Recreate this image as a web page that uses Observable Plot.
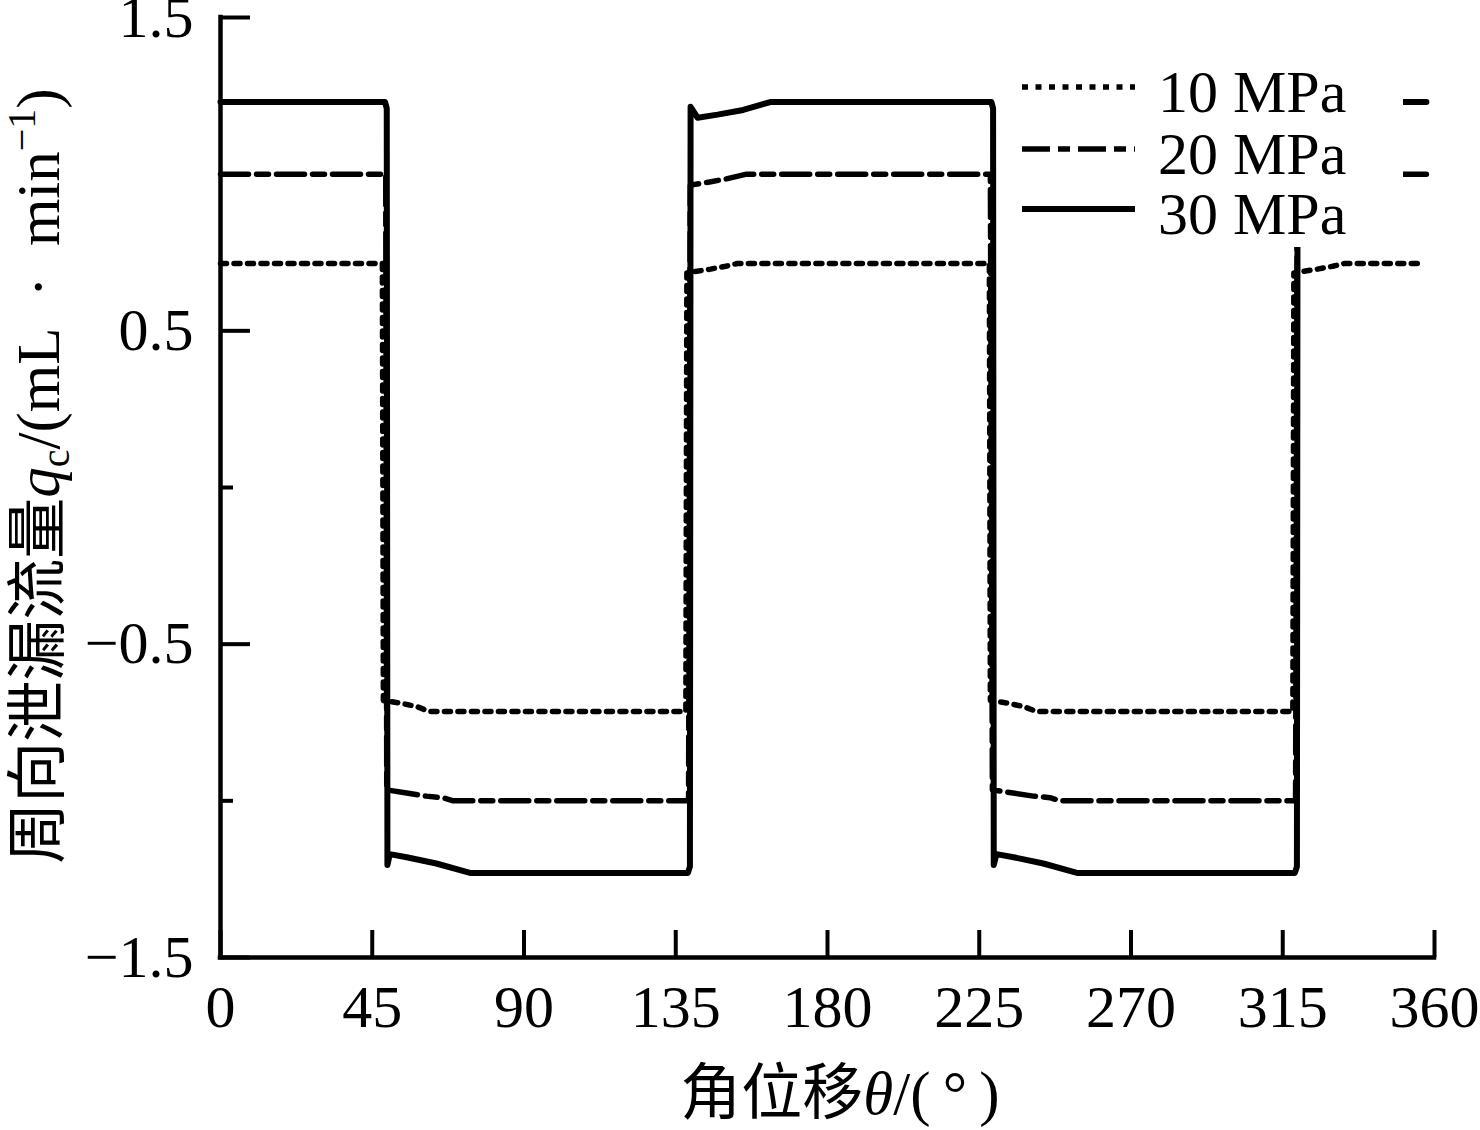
<!DOCTYPE html>
<html>
<head>
<meta charset="utf-8">
<script src="https://cdn.jsdelivr.net/npm/d3@7"></script>
<script src="https://cdn.jsdelivr.net/npm/@observablehq/plot@0.6"></script>
<style>
  html, body { margin: 0; padding: 0; background: #fff; }
  #chart { width: 1480px; height: 1130px; }
</style>
</head>
<body>
<div id="chart"></div>
<script>
// ---- data ----
const seriesNames = ["10 MPa", "20 MPa", "30 MPa"];
const xTicks = [0, 45, 90, 135, 180, 225, 270, 315, 360];
const yLabelTicks = [1.5, 0.5, -0.5, -1.5];
const yMinorTicks = [1.0, 0, -1.0];

const theta10 = [0, 48.0, 48.3, 53.4, 58.4, 62, 138.0, 138.3, 145.3, 149.8, 153.3, 228.0, 228.3, 233.4, 238.4, 242, 318.0, 318.3, 325.3, 329.8, 333.3, 355.3];
const q10     = [0.715, 0.715, -0.68, -0.688, -0.70, -0.715, -0.715, 0.685, 0.697, 0.706, 0.715, 0.715, -0.68, -0.688, -0.70, -0.715, -0.715, 0.685, 0.697, 0.706, 0.715, 0.715];

const theta20 = [0, 49.0, 49.3, 55.2, 61, 66, 69, 138.8, 139.3, 145, 150, 156, 228.3, 228.9, 235, 241, 246, 249, 318.8, 319.3, 325, 330, 336, 357.6];
const q20     = [1.0, 1.0, -0.965, -0.975, -0.985, -0.99, -1.0, -1.0, 0.965, 0.975, 0.985, 1.0, 1.0, -0.965, -0.975, -0.985, -0.99, -1.0, -1.0, 0.965, 0.975, 0.985, 1.0, 1.0];

const theta30 = [0, 48.8, 49.3, 49.5, 50.2, 55.2, 64, 74, 138.6, 139.2, 139.4, 141.5, 147.4, 155, 163, 228.6, 229.1, 229.3, 230.1, 235.2, 244, 254, 318.6, 319.2, 319.4, 321.5, 327.4, 335, 343, 357.6];
const q30     = [1.23, 1.23, 1.21, -1.205, -1.17, -1.18, -1.20, -1.23, -1.23, -1.21, 1.215, 1.18, 1.19, 1.205, 1.23, 1.23, 1.21, -1.205, -1.17, -1.18, -1.20, -1.23, -1.23, -1.21, 1.215, 1.18, 1.19, 1.205, 1.23, 1.23];

// ---- layout ----
const W = 1480, H = 1130;
const mL = 220, mR = 46, mT = 17, mB = 173;
const plotW = W - mL - mR, plotH = H - mT - mB;
const xDomain = [0, 360], yDomain = [-1.5, 1.5];
const yUnitPerPx = (yDomain[1] - yDomain[0]) / plotH;
const xUnitPerPx = (xDomain[1] - xDomain[0]) / plotW;

const rows = (t, q, s) => t.map((x, i) => ({theta: x, q: q[i], series: s}));
const d10 = rows(theta10, q10, seriesNames[0]);
const d20 = rows(theta20, q20, seriesNames[1]);
const d30 = rows(theta30, q30, seriesNames[2]);

const styles = {
  "10 MPa": {strokeWidth: 5.5, strokeDasharray: "6,7.5"},
  "20 MPa": {strokeWidth: 5.5, strokeDasharray: "28,8,12,8"},
  "30 MPa": {strokeWidth: 6, strokeDasharray: null}
};

const axisW = 4.5;
const serif = "'Liberation Serif', 'Noto Sans CJK SC', serif";

const chart = Plot.plot({
  width: W, height: H,
  marginLeft: mL, marginRight: mR, marginTop: mT, marginBottom: mB,
  style: {fontFamily: serif, fontSize: "60px", color: "#000", background: "#fff", overflow: "visible"},
  x: {domain: xDomain, label: null},
  y: {domain: yDomain, label: null},
  marks: [
    // series
    Plot.line(d10, {x: "theta", y: "q", stroke: "#000", strokeWidth: styles["10 MPa"].strokeWidth, strokeDasharray: styles["10 MPa"].strokeDasharray, strokeLinejoin: "round"}),
    Plot.line(d20, {x: "theta", y: "q", stroke: "#000", strokeWidth: styles["20 MPa"].strokeWidth, strokeDasharray: styles["20 MPa"].strokeDasharray, strokeLinejoin: "round"}),
    Plot.line(d30, {x: "theta", y: "q", stroke: "#000", strokeWidth: styles["30 MPa"].strokeWidth, strokeLinejoin: "round"}),
    // inward ticks
    Plot.ruleX(xTicks, {x: d => d, y1: yDomain[0], y2: yDomain[0] + 27 * yUnitPerPx, stroke: "#000", strokeWidth: 4}),
    Plot.ruleY(yLabelTicks, {y: d => d, x1: xDomain[0], x2: xDomain[0] + 30 * xUnitPerPx, stroke: "#000", strokeWidth: 4}),
    Plot.ruleY(yMinorTicks, {y: d => d, x1: xDomain[0], x2: xDomain[0] + 13 * xUnitPerPx, stroke: "#000", strokeWidth: 4}),
    // axis lines
    Plot.ruleX([xDomain[0]], {y1: yDomain[0], y2: yDomain[1], stroke: "#000", strokeWidth: axisW, strokeLinecap: "square"}),
    Plot.ruleY([yDomain[0]], {x1: xDomain[0], x2: xDomain[1], stroke: "#000", strokeWidth: axisW, strokeLinecap: "square"}),
    // tick labels
    Plot.axisX(xTicks, {tickSize: 0, tickPadding: 27, fontSize: 60, label: null}),
    Plot.axisY(yLabelTicks, {tickSize: 0, tickPadding: 27, fontSize: 60, label: null})
  ]
});

document.getElementById("chart").appendChild(chart);

// ---- legend (white box over the curves) and axis titles ----
const svg = d3.select(chart);
const lg = svg.append("g").attr("class", "legend");
lg.append("rect").attr("x", 1005).attr("y", 55).attr("width", 398).attr("height", 192).attr("fill", "#fff");
const legendRowsY = [87, 149, 209];
seriesNames.forEach((name, i) => {
  const st = styles[name];
  lg.append("line")
    .attr("x1", 1022).attr("x2", 1135)
    .attr("y1", legendRowsY[i]).attr("y2", legendRowsY[i])
    .attr("stroke", "#000").attr("stroke-width", st.strokeWidth)
    .attr("stroke-dasharray", st.strokeDasharray);
  lg.append("text")
    .attr("x", 1158).attr("y", legendRowsY[i] + 25)
    .attr("text-anchor", "start")
    .attr("font-size", 60)
    .attr("font-family", "'Liberation Serif', serif")
    .attr("fill", "#000")
    .text(name);
});

// y title
const yt = svg.append("text")
  .attr("transform", "translate(59,476) rotate(-90)")
  .attr("text-anchor", "middle")
  .attr("font-size", 61)
  .attr("font-family", serif)
  .attr("fill", "#000");
yt.append("tspan").attr("font-family", "'Noto Sans CJK SC', sans-serif").text("周向泄漏流量");
yt.append("tspan").attr("font-style", "italic").text("q");
yt.append("tspan").attr("font-size", 40).attr("dy", 10).text("c");
yt.append("tspan").attr("dy", -10).text("/(mL\u2002·\u2002min");
yt.append("tspan").attr("font-size", 40).attr("dy", -24).text("\u22121");
yt.append("tspan").attr("dy", 24).text(")");

// x title
const xt = svg.append("text")
  .attr("x", 840).attr("y", 1114)
  .attr("text-anchor", "middle")
  .attr("font-size", 61)
  .attr("font-family", serif)
  .attr("fill", "#000");
xt.append("tspan").attr("font-family", "'Noto Sans CJK SC', sans-serif").text("角位移");
xt.append("tspan").attr("font-style", "italic").text("θ");
xt.append("tspan").text("/(\u2009\u00b0\u2009)");
</script>
</body>
</html>
